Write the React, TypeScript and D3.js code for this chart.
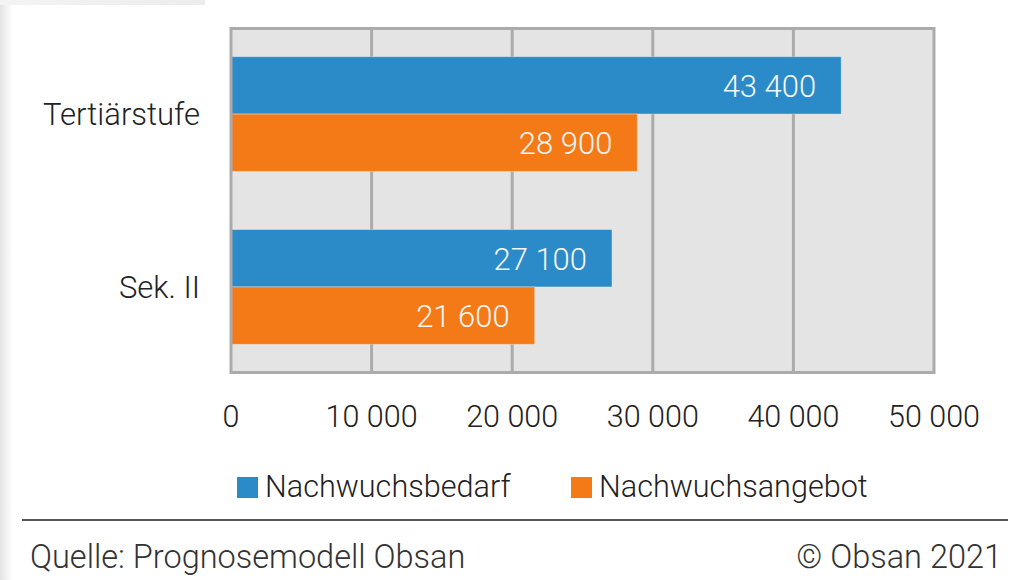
import { useEffect, useRef } from 'react';
import * as d3 from 'd3';

const CATEGORIES = ['Tertiärstufe', 'Sek. II'];
const SERIES = ['Nachwuchsbedarf', 'Nachwuchsangebot'];
const COLORS = ['#2b8bc8', '#f47a17'];
const BEDARF = [43400, 27100];
const ANGEBOT = [28900, 21600];
const X_TICKS = [0, 10000, 20000, 30000, 40000, 50000];
const SOURCE = 'Quelle: Prognosemodell Obsan';
const COPYRIGHT = '© Obsan 2021';

const FONT = 'Roboto, "Noto Sans", sans-serif';

export default function App() {
  const ref = useRef<SVGSVGElement>(null);

  useEffect(() => {
    if (!ref.current) return;
    const svg = d3.select(ref.current);
    svg.selectAll('*').remove();

    const W = 1010;
    const H = 580;
    svg.attr('width', W).attr('height', H);

    const fmt = d3.formatLocale({ decimal: ',', thousands: ' ', grouping: [3], currency: ['', ''] }).format(',');

    // card shadow at the top-left
    const defs = svg.append('defs');
    const gradL = defs.append('linearGradient').attr('id', 'shL').attr('x1', 0).attr('x2', 1).attr('y1', 0).attr('y2', 0);
    gradL.append('stop').attr('offset', 0).attr('stop-color', '#e4e4e4');
    gradL.append('stop').attr('offset', 1).attr('stop-color', '#ffffff');
    const gradT = defs.append('linearGradient').attr('id', 'shT').attr('x1', 0).attr('x2', 1).attr('y1', 0).attr('y2', 0);
    gradT.append('stop').attr('offset', 0).attr('stop-color', '#f4f4f4');
    gradT.append('stop').attr('offset', 1).attr('stop-color', '#ececec');
    svg.append('rect').attr('x', 0).attr('y', 0).attr('width', W).attr('height', H).attr('fill', '#ffffff');
    svg.append('rect').attr('x', 0).attr('y', 0).attr('width', 205).attr('height', 5).attr('fill', 'url(#shT)');
    svg.append('rect').attr('x', 0).attr('y', 5).attr('width', 13).attr('height', H - 5).attr('fill', 'url(#shL)');

    const x = d3.scaleLinear().domain([0, 50000]).range([231, 934]);
    const y = d3.scaleBand<string>().domain(CATEGORIES).range([29, 372]).paddingInner(0.336).paddingOuter(0.16);
    const ySub = d3.scaleBand<string>().domain(SERIES).range([0, y.bandwidth()]);

    // plot background
    svg.append('rect')
      .attr('x', x(0)).attr('y', 28)
      .attr('width', x(50000) - x(0)).attr('height', 372.5 - 28)
      .attr('fill', '#e4e4e4');

    // grid lines
    svg.append('g')
      .selectAll('line')
      .data(X_TICKS.slice(1, -1))
      .join('line')
      .attr('x1', d => x(d)).attr('x2', d => x(d))
      .attr('y1', 28).attr('y2', 372.5)
      .attr('stroke', '#ababab').attr('stroke-width', 3);

    // bars
    const values = [BEDARF, ANGEBOT];
    CATEGORIES.forEach((cat, ci) => {
      SERIES.forEach((s, si) => {
        const v = values[si][ci];
        const y0 = (y(cat) as number) + (ySub(s) as number);
        const h = ySub.bandwidth();
        svg.append('rect')
          .attr('x', x(0)).attr('y', y0)
          .attr('width', x(v) - x(0)).attr('height', h)
          .attr('fill', COLORS[si])
          .attr('stroke', '#ffffff').attr('stroke-opacity', 0.35).attr('stroke-width', 1);
        svg.append('text')
          .attr('x', x(v) - 25).attr('y', y0 + h / 2 + 11.5)
          .attr('text-anchor', 'end')
          .attr('fill', '#f6f6f6')
          .attr('font-family', FONT).attr('font-weight', 300).attr('font-size', 31)
          .text(fmt(v));
      });
      svg.append('text')
        .attr('x', 200).attr('y', (y(cat) as number) + y.bandwidth() / 2 + 11)
        .attr('text-anchor', 'end')
        .attr('fill', '#222')
        .attr('font-family', FONT).attr('font-weight', 300).attr('font-size', 31)
        .text(cat);
    });

    // frame
    svg.append('rect')
      .attr('x', x(0)).attr('y', 28.5)
      .attr('width', x(50000) - x(0)).attr('height', 372.5 - 28.5)
      .attr('fill', 'none').attr('stroke', '#ababab').attr('stroke-width', 3);

    // x tick labels
    svg.append('g')
      .selectAll('text')
      .data(X_TICKS)
      .join('text')
      .attr('x', d => x(d)).attr('y', 427)
      .attr('text-anchor', 'middle')
      .attr('fill', '#222')
      .attr('font-family', FONT).attr('font-weight', 300).attr('font-size', 30.5)
      .text(d => fmt(d));

    // legend
    const legendX = [237, 571];
    SERIES.forEach((s, i) => {
      svg.append('rect')
        .attr('x', legendX[i]).attr('y', 477)
        .attr('width', 21).attr('height', 21)
        .attr('fill', COLORS[i]);
      svg.append('text')
        .attr('x', legendX[i] + 28).attr('y', 497)
        .attr('fill', '#222')
        .attr('font-family', FONT).attr('font-weight', 300).attr('font-size', 30.6)
        .text(s);
    });

    // footer
    svg.append('line')
      .attr('x1', 22).attr('x2', 1008)
      .attr('y1', 520).attr('y2', 520)
      .attr('stroke', '#555').attr('stroke-width', 2);
    svg.append('text')
      .attr('x', 30).attr('y', 568)
      .attr('fill', '#333')
      .attr('font-family', FONT).attr('font-weight', 300).attr('font-size', 32.5)
      .text(SOURCE);
    svg.append('text')
      .attr('x', 1002).attr('y', 568)
      .attr('text-anchor', 'end')
      .attr('fill', '#333')
      .attr('font-family', FONT).attr('font-weight', 300).attr('font-size', 32.5)
      .text(COPYRIGHT);
  }, []);

  return (
    <div style={{ position: 'fixed', left: 0, top: 0 }}>
      <svg ref={ref} style={{ display: 'block' }} />
    </div>
  );
}
